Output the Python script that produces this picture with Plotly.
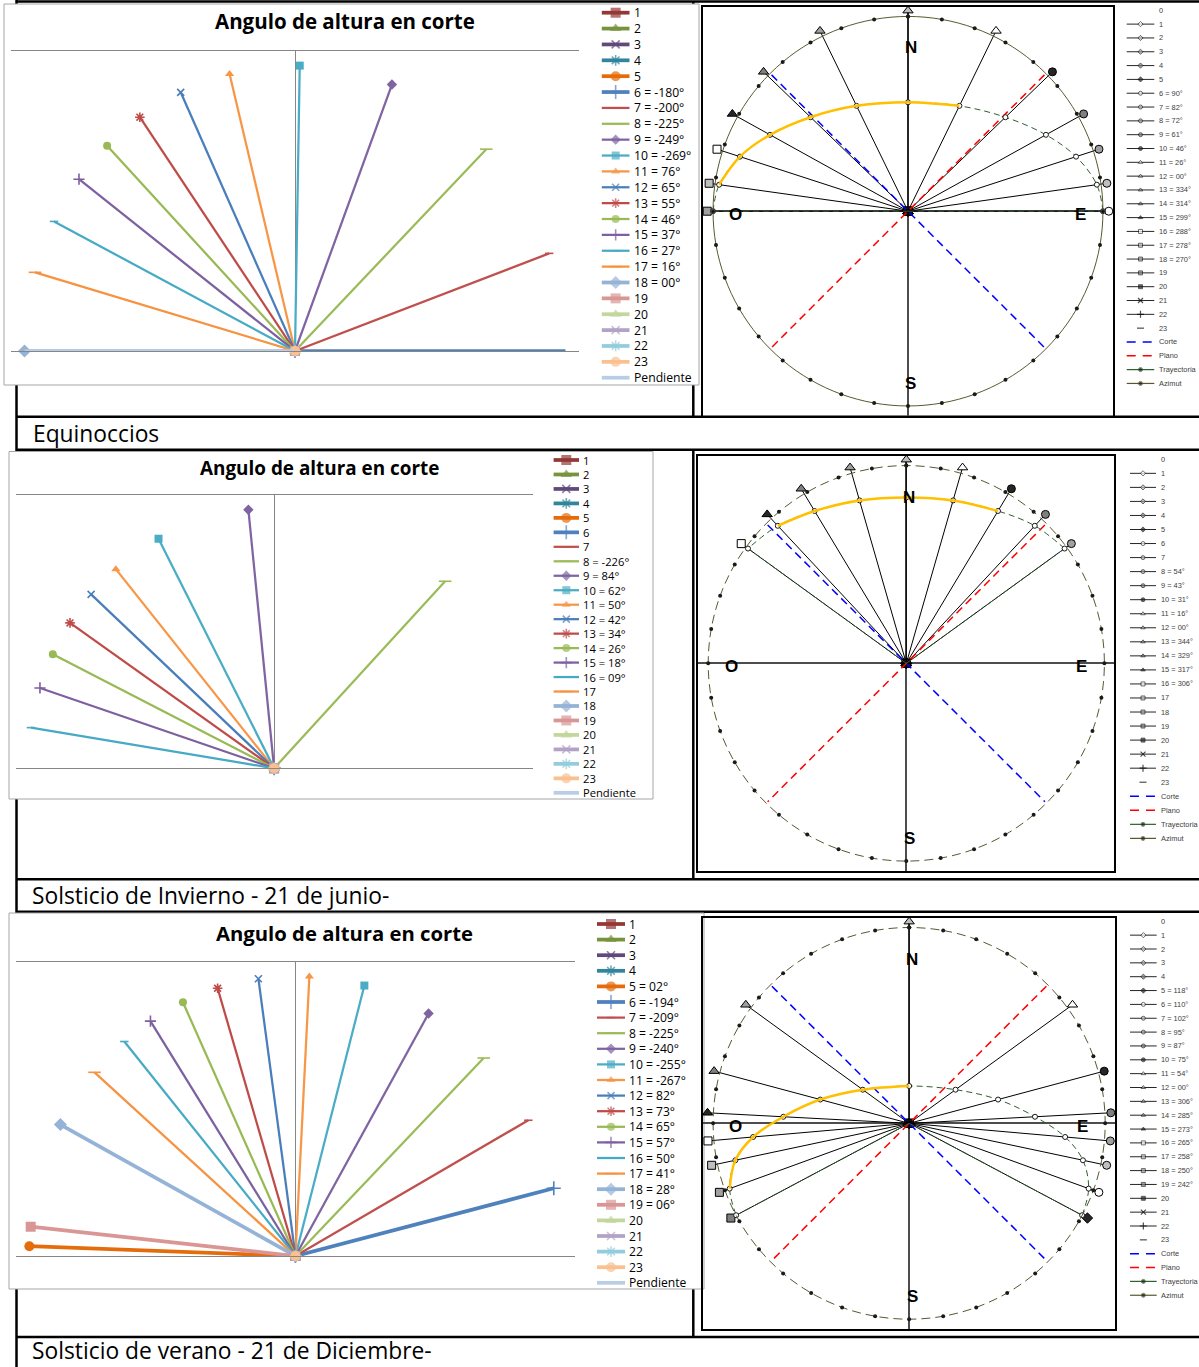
import math
import plotly.graph_objects as go

W, H = 1199, 1367

# ======================= DATA =======================
# Left charts "Angulo de altura en corte": series 1..23 (angle label values, None = no value)
serie_num = list(range(1, 24))
eq_corte = [None, None, None, None, None, -180, -200, -225, -249, -269, 76, 65, 55, 46,
            37, 27, 16, 0, None, None, None, None, None]
inv_corte = [None, None, None, None, None, None, None, -226, 84, 62, 50, 42, 34, 26,
             18, 9, None, None, None, None, None, None, None]
ver_corte = [None, None, None, None, 2, -194, -209, -225, -240, -255, -267, 82, 73, 65,
             57, 50, 41, 28, 6, None, None, None, None]
eq_pendiente = 0
inv_pendiente = None
ver_pendiente = None

# Right charts (sun path): hours 0..23, azimuth and solar altitude (degrees)
horas = list(range(24))
eq_azimut = [None, None, None, None, None, None, 90, 82, 72, 61, 46, 26, 0, 334, 314, 299,
             288, 278, 270, None, None, None, None, None]
eq_altura = [None, None, None, None, None, None, 0, 12, 25, 36, 46, 53, 56, 53, 46, 36,
             25, 12, 0, None, None, None, None, None]
inv_azimut = [None, None, None, None, None, None, None, None, 54, 43, 31, 16, 0, 344, 329,
              317, 306, None, None, None, None, None, None, None]
inv_altura = [None, None, None, None, None, None, None, None, 9, 18, 26, 31, 33, 31, 26,
              18, 9, None, None, None, None, None, None, None]
ver_azimut = [None, None, None, None, None, 118, 110, 102, 95, 87, 75, 54, 0, 306, 285, 273,
              265, 258, 250, 242, None, None, None, None]
ver_altura = [None, None, None, None, None, 2, 13, 25, 37, 50, 62, 73, 79, 73, 62, 50,
              37, 25, 13, 2, None, None, None, None]
corte_azimut = 315
plano_azimut = 45
eq_dorado = (11, 17)
inv_dorado = (10, 15)
ver_dorado = (12, 18)
azimut_marcas = list(range(0, 370, 10))

titulo = "Angulo de altura en corte"
etiquetas = ["Equinoccios", "Solsticio de Invierno - 21 de junio-",
             "Solsticio de verano - 21 de Diciembre-"]
extra_leyenda = ["Corte", "Plano", "Trayectoria", "Azimut"]

# ======================= STYLES =======================
col_izq = ['#953735', '#77933C', '#604A7B', '#31859C', '#E46C0A',
           '#4F81BD', '#C0504D', '#9BBB59', '#8064A2', '#4BACC6', '#F79646',
           '#4A7EBB', '#BE4B48', '#98B954', '#7D60A0', '#46AAC5', '#F69240',
           '#95B3D7', '#D99694', '#C3D69B', '#B3A2C7', '#93CDDD', '#FAC090']
col_pend = '#B9CDE5'
sym_seq = ['diamond', 'square', 'triangle-up', 'x-thin-open', 'asterisk-open', 'circle',
           'cross-thin-open', 'line-ew-open', 'line-ew-open']
size_thin = [8, 8, 8, 7, 8, 8, 8, 6, 9]
size_thick = [10, 10, 10, 8, 9, 10, 10, 7, 10]


def left_style(k):
    s = sym_seq[k % 9]
    thick = (k <= 6) or (k >= 18)
    sz = (size_thick if thick else size_thin)[k % 9]
    return s, sz, (3.75 if thick else 2.25)


tonos = ['white', '#bfbfbf', '#a0a0a0', '#7f7f7f', '#262626']


def hour_style(h):
    if h == 0:
        return None, 0, 'white'
    if h <= 20:
        grp = (h - 1) // 5
        s = ['diamond', 'circle', 'triangle-up', 'square'][grp]
        return s, 8 if s != 'triangle-up' else 9, tonos[(h - 1) % 5]
    return ['x-thin-open', 'cross-thin-open', 'line-ew-open'][h - 21], 7, 'black'


FONT_XL = "Open Sans"
FONT_R = "Liberation Sans"

rows = [
    dict(corte=eq_corte, pend=eq_pendiente, az=eq_azimut, alt=eq_altura, dorado=eq_dorado,
         circ_dash='solid', lbox=(11, 579, 51.3, 351), rbox=(703.3, 1112.7, 6.7, 415.7),
         frame=(4, 699, 4, 385), title=(345, 21, 20.5), label=(31.7, 449.5),
         leg=(601.8, 629.5, 632.6, 12.7, 15.87, 12.2),
         rleg=(1126.7, 1154.3, 1157.7, 10.3, 13.82)),
    dict(corte=inv_corte, pend=inv_pendiente, az=inv_azimut, alt=inv_altura, dorado=inv_dorado,
         circ_dash='9px,5px', lbox=(15.6, 532.6, 495.3, 768.3), rbox=(698.3, 1114.3, 455.7, 871),
         frame=(9, 653, 451.5, 799), title=(319.6, 468, 18.9), label=(31.3, 911.5),
         leg=(553.6, 579, 581.7, 460, 14.47, 11.2),
         rleg=(1130, 1156, 1160, 459.3, 14.04)),
    dict(corte=ver_corte, pend=ver_pendiente, az=ver_azimut, alt=ver_altura, dorado=ver_dorado,
         circ_dash='9px,5px', lbox=(15.9, 575, 962, 1256), rbox=(703.3, 1115, 917.7, 1329),
         frame=(9, 704, 913, 1289), title=(344.7, 932.7, 20.3), label=(30.8, 1367),
         leg=(597, 625, 627.7, 924, 15.6, 12.1),
         rleg=(1130, 1156.7, 1160, 921.3, 13.85)),
]

R_HORA = 1.03
R_CORTE = 0.99

fig = go.Figure()
layout = dict(width=W, height=H, margin=dict(l=0, r=0, t=0, b=0),
              paper_bgcolor='white', plot_bgcolor='rgba(0,0,0,0)', showlegend=False,
              hovermode=False)
shapes = []
annotations = []


def dom_x(a, b):
    return [a / W, b / W]


def dom_y(top, bottom):
    return [1 - bottom / H, 1 - top / H]


def pxx(p):
    return p / W


def pxy(p):
    return 1 - p / H


# ---- table lines (below everything) ----
hlines = [(1.5, 16.5, 1199), (416.8, 16.5, 1199), (449.8, 16.5, 1199),
          (879.3, 16.5, 1199), (911.7, 16.5, 1199), (1337, 16.5, 1199)]
vlines = [(16.5, 0, 1367), (693.3, 1.5, 416.8), (693.3, 449.8, 879.3), (693.3, 911.7, 1337)]
for y, x0, x1 in hlines:
    shapes.append(dict(type='line', xref='paper', yref='paper', x0=pxx(x0), x1=pxx(x1),
                       y0=pxy(y), y1=pxy(y), line=dict(color='black', width=2.5), layer='below'))
for x, y0, y1 in vlines:
    shapes.append(dict(type='line', xref='paper', yref='paper', x0=pxx(x), x1=pxx(x),
                       y0=pxy(y0), y1=pxy(y1), line=dict(color='black', width=2.5), layer='below'))

for r, c in enumerate(rows):
    kl, kr = 2 * r + 1, 2 * r + 2
    xl_key = 'xaxis' if kl == 1 else f'xaxis{kl}'
    yl_key = 'yaxis' if kl == 1 else f'yaxis{kl}'
    xl_ref = 'x' if kl == 1 else f'x{kl}'
    yl_ref = 'y' if kl == 1 else f'y{kl}'
    xr_key, yr_key = f'xaxis{kr}', f'yaxis{kr}'
    xr_ref, yr_ref = f'x{kr}', f'y{kr}'

    # frame of the left chart
    fx0, fx1, fy0, fy1 = c['frame']
    shapes.append(dict(type='rect', xref='paper', yref='paper', x0=pxx(fx0), x1=pxx(fx1),
                       y0=pxy(fy1), y1=pxy(fy0), line=dict(color='#a6a6a6', width=1),
                       fillcolor='white', layer='below'))

    bx0, bx1, by0, by1 = c['lbox']
    layout[xl_key] = dict(domain=dom_x(bx0, bx1), range=[-1.05, 1.05], anchor=yl_ref,
                          showgrid=False, zeroline=True, zerolinecolor='#868686', zerolinewidth=1,
                          showline=True, mirror=True, linecolor='#868686', linewidth=1,
                          showticklabels=False, ticks='', fixedrange=True)
    layout[yl_key] = dict(domain=dom_y(by0, by1), range=[0, 1.05], anchor=xl_ref,
                          showgrid=False, zeroline=False, showline=False,
                          showticklabels=False, ticks='', fixedrange=True)

    rx0, rx1, ry0, ry1 = c['rbox']
    ax_r = dict(range=[-1.05, 1.05], showgrid=False, zeroline=True, zerolinecolor='#4d4d4d',
                zerolinewidth=1.5, showline=True, mirror=True, linecolor='black', linewidth=1.5,
                showticklabels=False, ticks='', fixedrange=True)
    layout[xr_key] = dict(ax_r, domain=dom_x(rx0, rx1), anchor=yr_ref)
    layout[yr_key] = dict(ax_r, domain=dom_y(ry0, ry1), anchor=xr_ref)

    # ---- left chart series ----
    for i, v in enumerate(c['corte']):
        k = serie_num[i]
        if v is None:
            xs, ys = [0], [0]
        else:
            a = math.radians(v)
            xs, ys = [0, -math.cos(a)], [0, math.sin(a)]
        s, sz, lw = left_style(k)
        op = s.endswith('open')
        fig.add_trace(go.Scatter(
            x=xs, y=ys, xaxis=xl_ref, yaxis=yl_ref, mode='lines+markers',
            line=dict(color=col_izq[i], width=lw),
            marker=dict(symbol=s, size=sz, color=col_izq[i],
                        line=dict(color=col_izq[i], width=1.6 if op else 0)),
            cliponaxis=False, hoverinfo='skip'))
    if c['pend'] is not None:
        a = math.radians(c['pend'])
        fig.add_trace(go.Scatter(x=[0, -math.cos(a)], y=[0, math.sin(a)], xaxis=xl_ref,
                                 yaxis=yl_ref, mode='lines', line=dict(color=col_pend, width=3),
                                 cliponaxis=False, hoverinfo='skip'))

    # ---- right chart: hour lines ----
    az, alt = c['az'], c['alt']
    for h in horas:
        if az[h] is None:
            xs, ys = [0], [0]
        else:
            a = math.radians(az[h])
            xs, ys = [0, R_HORA * math.sin(a)], [0, R_HORA * math.cos(a)]
        s, sz, fillc = hour_style(h)
        if s is None:
            fig.add_trace(go.Scatter(x=xs, y=ys, xaxis=xr_ref, yaxis=yr_ref, mode='lines',
                                     line=dict(color='black', width=1), hoverinfo='skip'))
            continue
        op = s.endswith('open')
        fig.add_trace(go.Scatter(
            x=xs, y=ys, xaxis=xr_ref, yaxis=yr_ref, mode='lines+markers',
            line=dict(color='black', width=1),
            marker=dict(symbol=s, size=sz, color=fillc if not op else 'black',
                        line=dict(color='black', width=1.5 if op else 1)),
            cliponaxis=False, hoverinfo='skip'))

    # Corte / Plano
    for azc, colr in ((corte_azimut, '#0000ff'), (plano_azimut, '#ff0000')):
        a = math.radians(azc)
        b = a + math.pi
        fig.add_trace(go.Scatter(
            x=[R_CORTE * math.sin(a), R_CORTE * math.sin(b)],
            y=[R_CORTE * math.cos(a), R_CORTE * math.cos(b)],
            xaxis=xr_ref, yaxis=yr_ref, mode='lines',
            line=dict(color=colr, width=1.5, dash='8px,5px'), hoverinfo='skip'))

    # Trayectoria: daytime part (smoothed) + straight night links to the centre
    ptd = {}
    dia = []
    for h in horas:
        if alt[h] is None:
            continue
        a = math.radians(az[h])
        rr = math.cos(math.radians(alt[h]))
        ptd[h] = (rr * math.sin(a), rr * math.cos(a))
        dia.append(h)
    first, last = ptd[dia[0]], ptd[dia[-1]]
    fig.add_trace(go.Scatter(
        x=[last[0], 0, None, 0, first[0]], y=[last[1], 0, None, 0, first[1]],
        xaxis=xr_ref, yaxis=yr_ref, mode='lines',
        line=dict(color='#2f5f2f', width=1, dash='6px,4px'), hoverinfo='skip'))
    fig.add_trace(go.Scatter(
        x=[ptd[h][0] for h in dia], y=[ptd[h][1] for h in dia], xaxis=xr_ref, yaxis=yr_ref,
        mode='lines+markers', line=dict(color='#2f5f2f', width=1, dash='6px,4px', shape='spline'),
        marker=dict(symbol='circle', size=5, color='white', line=dict(color='#1a1a1a', width=1)),
        cliponaxis=False, hoverinfo='skip'))

    # Azimut circle
    fig.add_trace(go.Scatter(
        x=[math.sin(math.radians(m)) for m in azimut_marcas],
        y=[math.cos(math.radians(m)) for m in azimut_marcas],
        xaxis=xr_ref, yaxis=yr_ref, mode='lines+markers',
        line=dict(color='#58582f', width=1, dash=c['circ_dash'], shape='spline'),
        marker=dict(symbol='circle', size=4, color='#1a1a1a'),
        cliponaxis=False, hoverinfo='skip'))

    # golden segment of the path
    g0, g1 = c['dorado']
    gp = [ptd[h] for h in range(g0, g1 + 1)]
    fig.add_trace(go.Scatter(
        x=[p[0] for p in gp], y=[p[1] for p in gp], xaxis=xr_ref, yaxis=yr_ref,
        mode='lines', line=dict(color='#FFC000', width=2.5, shape='spline'),
        cliponaxis=False, hoverinfo='skip'))

    # cardinal labels
    for txt, (tx, ty) in (('N', (0.015, 0.838)), ('S', (0.015, -0.885)),
                          ('O', (-0.884, -0.018)), ('E', (0.886, -0.018))):
        annotations.append(dict(x=tx, y=ty, xref=xr_ref, yref=yr_ref, text=f'<b>{txt}</b>',
                                showarrow=False, font=dict(family=FONT_R, size=17, color='black'),
                                xanchor='center', yanchor='middle'))

    # ---- titles and labels ----
    tx, ty, tfs = c['title']
    annotations.append(dict(x=tx, y=ty, xref='x7', yref='y7', text=f'<b>{titulo}</b>',
                            showarrow=False, font=dict(family=FONT_XL, size=tfs, color='black'),
                            xanchor='center', yanchor='middle'))
    lx, ly = c['label']
    annotations.append(dict(x=lx, y=ly, xref='x7', yref='y7', text=etiquetas[r],
                            showarrow=False, font=dict(family=FONT_XL, size=22.8, color='black'),
                            xanchor='left', yanchor='bottom', borderpad=0))

    # ---- left legend ----
    lg_x0, lg_x1, lg_xt, lg_y0, lg_dy, lg_fs = c['leg']
    lg_xm = (lg_x0 + lg_x1) / 2
    names = []
    for i, v in enumerate(c['corte']):
        k = serie_num[i]
        names.append(f"{k} = {v:02d}°" if v is not None else str(k))
    names.append('Pendiente')
    msyms, msizes, mlw = [], [], []
    for i in range(23):
        k = serie_num[i]
        s, sz, lw = left_style(k)
        y = lg_y0 + i * lg_dy
        fig.add_trace(go.Scatter(x=[lg_x0, lg_x1], y=[y, y], xaxis='x7', yaxis='y7', mode='lines',
                                 line=dict(color=col_izq[i], width=lw), hoverinfo='skip'))
        msyms.append(s)
        msizes.append(sz)
        mlw.append(1.6 if s.endswith('open') else 0)
    yp = lg_y0 + 23 * lg_dy
    fig.add_trace(go.Scatter(x=[lg_x0, lg_x1], y=[yp, yp], xaxis='x7', yaxis='y7', mode='lines',
                             line=dict(color=col_pend, width=3.75), hoverinfo='skip'))
    fig.add_trace(go.Scatter(x=[lg_xm] * 23, y=[lg_y0 + i * lg_dy for i in range(23)],
                             xaxis='x7', yaxis='y7', mode='markers',
                             marker=dict(symbol=msyms, size=msizes, color=col_izq,
                                         line=dict(color=col_izq, width=mlw)),
                             cliponaxis=False, hoverinfo='skip'))
    for i, nm in enumerate(names):
        annotations.append(dict(x=lg_xt, y=lg_y0 + i * lg_dy, xref='x7', yref='y7', text=nm,
                                showarrow=False, font=dict(family=FONT_XL, size=lg_fs, color='black'),
                                xanchor='left', yanchor='middle', borderpad=0))

    # ---- right legend ----
    rl_x0, rl_x1, rl_xt, rl_y0, rl_dy = c['rleg']
    rl_xm = (rl_x0 + rl_x1) / 2
    rnames = []
    for h in horas:
        rnames.append(f"{h} = {az[h]:02d}°" if az[h] is not None else str(h))
    rnames += extra_leyenda
    lx_, ly_ = [], []
    mx, my, ms, msz, mc, mlwr = [], [], [], [], [], []
    for h in horas:
        y = rl_y0 + h * rl_dy
        s, sz, fillc = hour_style(h)
        if s is None:
            continue
        if h != 23:
            lx_ += [rl_x0, rl_x1, None]
            ly_ += [y, y, None]
        op = s.endswith('open')
        mx.append(rl_xm)
        my.append(y)
        ms.append(s)
        msz.append(4 if not op else 5)
        mc.append(fillc if not op else 'black')
        mlwr.append(1.2 if op else 0.8)
    fig.add_trace(go.Scatter(x=lx_, y=ly_, xaxis='x7', yaxis='y7', mode='lines',
                             line=dict(color='#262626', width=1), hoverinfo='skip'))
    fig.add_trace(go.Scatter(x=mx, y=my, xaxis='x7', yaxis='y7', mode='markers',
                             marker=dict(symbol=ms, size=msz, color=mc,
                                         line=dict(color='black', width=mlwr)),
                             cliponaxis=False, hoverinfo='skip'))
    y_c = rl_y0 + 24 * rl_dy
    for j, (colr, dash) in enumerate((('#0000ff', '9px,7px'), ('#ff0000', '9px,7px'))):
        yy = y_c + j * rl_dy
        fig.add_trace(go.Scatter(x=[rl_x0, rl_x1], y=[yy, yy], xaxis='x7', yaxis='y7',
                                 mode='lines', line=dict(color=colr, width=1.5, dash=dash),
                                 hoverinfo='skip'))
    for j, colr in enumerate(('#2f5f2f', '#58582f')):
        yy = y_c + (2 + j) * rl_dy
        fig.add_trace(go.Scatter(x=[rl_x0, rl_xm, rl_x1], y=[yy, yy, yy], xaxis='x7', yaxis='y7',
                                 mode='lines+markers', line=dict(color=colr, width=1.2),
                                 marker=dict(size=[0, 4, 0], color='#1a1a1a'),
                                 hoverinfo='skip'))
    for i, nm in enumerate(rnames):
        annotations.append(dict(x=rl_xt, y=rl_y0 + i * rl_dy, xref='x7', yref='y7', text=nm,
                                showarrow=False, font=dict(family=FONT_R, size=7.4, color='#404040'),
                                xanchor='left', yanchor='middle', borderpad=0))

layout['xaxis7'] = dict(domain=[0, 1], range=[0, W], visible=False, fixedrange=True, anchor='y7')
layout['yaxis7'] = dict(domain=[0, 1], range=[H, 0], visible=False, fixedrange=True, anchor='x7')
layout['shapes'] = shapes
layout['annotations'] = annotations
fig.update_layout(**layout)

fig.write_html("out.html", config={'displayModeBar': False},
               post_script="document.body.style.margin='0';document.body.style.overflow='hidden';")
